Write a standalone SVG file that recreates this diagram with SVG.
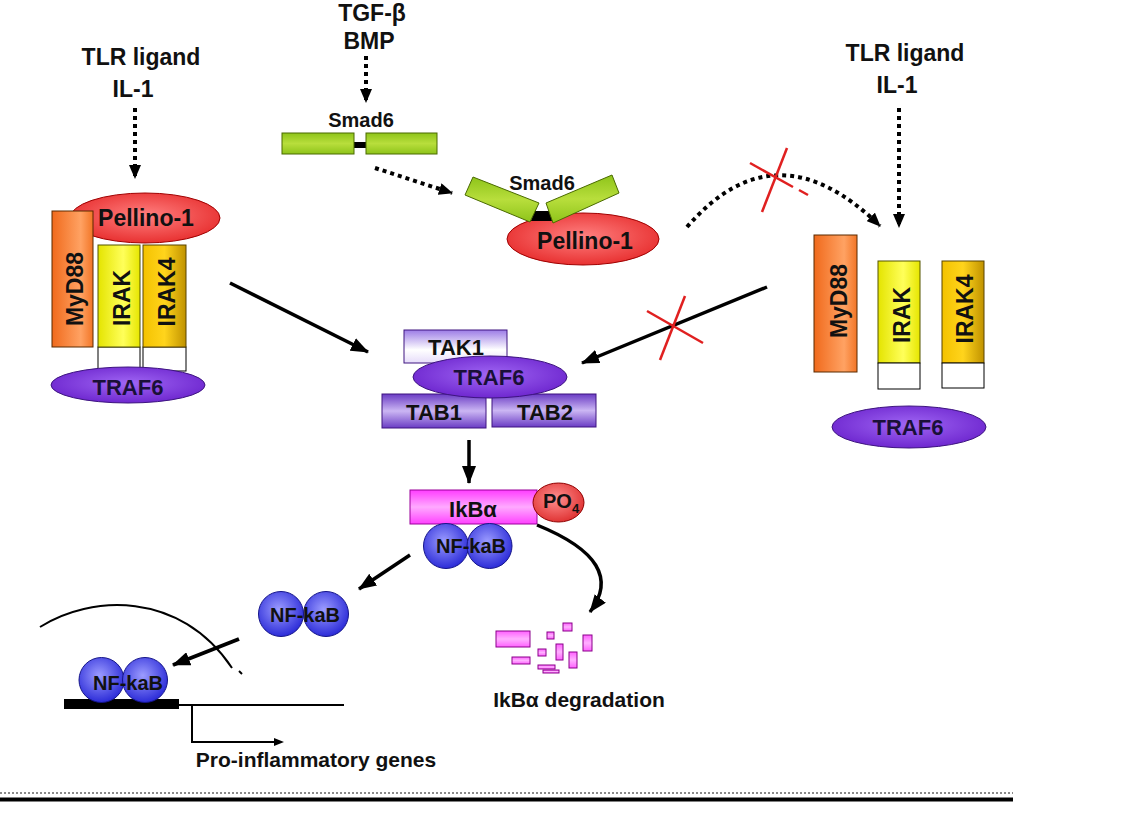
<svg xmlns="http://www.w3.org/2000/svg" width="1127" height="814" viewBox="0 0 1127 814">
<style>
text{font-family:"Liberation Sans",Arial,sans-serif;font-weight:bold;fill:#111;}
.big{font-size:23px;}
.lab{font-size:22px;}
.sm{font-size:20px;}
.cap{font-size:21px;}
.mid{text-anchor:middle;}
.dot{fill:none;stroke:#000;stroke-width:4;stroke-dasharray:4 4;}
.sol{fill:none;stroke:#000;stroke-width:3.5;}
.thin{fill:none;stroke:#000;stroke-width:2;}
.redx{stroke:#e02020;stroke-width:2.5;fill:none;}
.frag{fill:url(#gFrag);stroke:#8a008a;stroke-width:1;}
</style>
<defs>
<linearGradient id="gOrange" x1="0" y1="0" x2="1" y2="0"><stop offset="0" stop-color="#f06a1c"/><stop offset="0.7" stop-color="#ffa263"/><stop offset="1" stop-color="#f27526"/></linearGradient>
<linearGradient id="gYellow" x1="0" y1="0" x2="1" y2="0"><stop offset="0" stop-color="#e4e400"/><stop offset="0.6" stop-color="#ffff5a"/><stop offset="1" stop-color="#e6e600"/></linearGradient>
<linearGradient id="gGold" x1="0" y1="0" x2="1" y2="0"><stop offset="0" stop-color="#f4c200"/><stop offset="0.5" stop-color="#ffd41c"/><stop offset="1" stop-color="#c09200"/></linearGradient>
<radialGradient id="gRed" cx="0.5" cy="0.45" r="0.6"><stop offset="0" stop-color="#ff8080"/><stop offset="1" stop-color="#e62a2a"/></radialGradient>
<radialGradient id="gPurple" cx="0.5" cy="0.45" r="0.6"><stop offset="0" stop-color="#a066f4"/><stop offset="1" stop-color="#6a22cc"/></radialGradient>
<linearGradient id="gTak" x1="0" y1="0" x2="0" y2="1"><stop offset="0" stop-color="#9c7ce6"/><stop offset="0.6" stop-color="#ffffff"/><stop offset="1" stop-color="#e6dcfa"/></linearGradient>
<linearGradient id="gTab" x1="0" y1="0" x2="0" y2="1"><stop offset="0" stop-color="#6a3cc4"/><stop offset="0.5" stop-color="#cbb6f3"/><stop offset="1" stop-color="#6a3cc4"/></linearGradient>
<linearGradient id="gMag" x1="0" y1="0" x2="0" y2="1"><stop offset="0" stop-color="#ff3cff"/><stop offset="0.5" stop-color="#ffaaff"/><stop offset="1" stop-color="#ff40ff"/></linearGradient>
<linearGradient id="gFrag" x1="0" y1="0" x2="0" y2="1"><stop offset="0" stop-color="#ff60ff"/><stop offset="0.5" stop-color="#ffb0ff"/><stop offset="1" stop-color="#ff60ff"/></linearGradient>
<radialGradient id="gBlue" cx="0.45" cy="0.4" r="0.6"><stop offset="0" stop-color="#9c9cff"/><stop offset="1" stop-color="#2c2cd8"/></radialGradient>
<linearGradient id="gGreen" x1="0" y1="0" x2="0" y2="1"><stop offset="0" stop-color="#8ec41a"/><stop offset="0.5" stop-color="#b8de3c"/><stop offset="1" stop-color="#8ec41a"/></linearGradient>
<radialGradient id="gPO" cx="0.45" cy="0.4" r="0.6"><stop offset="0" stop-color="#ff9090"/><stop offset="1" stop-color="#e03434"/></radialGradient>
<marker id="hd" viewBox="0 0 14 12" refX="13" refY="6" markerWidth="14" markerHeight="12" markerUnits="userSpaceOnUse" orient="auto"><path d="M0,0 L14,6 L0,12 z" fill="#000"/></marker>
<marker id="hs" viewBox="0 0 18 14" refX="17" refY="7" markerWidth="18" markerHeight="14" markerUnits="userSpaceOnUse" orient="auto"><path d="M0,0 L18,7 L0,14 z" fill="#000"/></marker>
</defs>
<rect width="1127" height="814" fill="#fff"/>

<!-- free labels -->
<g id="lbl-left"><text class="big mid" x="141" y="65">TLR ligand</text><text class="big mid" x="133" y="97">IL-1</text></g>
<g id="lbl-tgf"><text class="big mid" x="372" y="21">TGF-β</text><text class="big mid" x="369" y="49">BMP</text></g>
<g id="lbl-right"><text class="big mid" x="905" y="61">TLR ligand</text><text class="big mid" x="897" y="93">IL-1</text></g>

<!-- left complex -->
<g id="left-complex">
<ellipse cx="145" cy="218" rx="75" ry="25" fill="url(#gRed)" stroke="#a00000" stroke-width="1"/>
<text class="big mid" x="146" y="226">Pellino-1</text>
<rect x="52" y="211" width="41" height="136" fill="url(#gOrange)" stroke="#5a2a00" stroke-width="1"/>
<text class="big mid" transform="translate(83,289) rotate(-90)">MyD88</text>
<rect x="98" y="347" width="42" height="24" fill="#fff" stroke="#000" stroke-width="1"/>
<rect x="143" y="347" width="43" height="24" fill="#fff" stroke="#000" stroke-width="1"/>
<rect x="98" y="245" width="42" height="102" fill="url(#gYellow)" stroke="#555500" stroke-width="1"/>
<text class="big mid" transform="translate(130,298) rotate(-90)">IRAK</text>
<rect x="143" y="245" width="43" height="102" fill="url(#gGold)" stroke="#5a4400" stroke-width="1"/>
<text class="big mid" transform="translate(175,292) rotate(-90)">IRAK4</text>
<ellipse cx="128" cy="385" rx="77" ry="18" fill="url(#gPurple)" stroke="#3e1580" stroke-width="1"/>
<text class="lab mid" x="128" y="395" style="fill:#1a1038">TRAF6</text>
</g>

<!-- Smad6 free -->
<g id="smad6">
<text class="sm mid" x="361" y="127">Smad6</text>
<rect x="354" y="142" width="12" height="6" fill="#000"/>
<rect x="282" y="133" width="72" height="21" fill="url(#gGreen)" stroke="#4a6a00" stroke-width="1"/>
<rect x="366" y="133" width="71" height="21" fill="url(#gGreen)" stroke="#4a6a00" stroke-width="1"/>
</g>

<!-- Smad6 / Pellino complex -->
<g id="smad6-pellino">
<ellipse cx="583" cy="239" rx="76" ry="26" fill="url(#gRed)" stroke="#a00000" stroke-width="1"/>
<text class="big mid" x="585" y="249">Pellino-1</text>
<polygon points="534,211 551,211 553,221 531,221" fill="#000"/>
<polygon points="473,177 539,203 530,222 465,195" fill="url(#gGreen)" stroke="#4a6a00" stroke-width="1"/>
<polygon points="612,175 619,193 553,223 546,203" fill="url(#gGreen)" stroke="#4a6a00" stroke-width="1"/>
<text class="sm mid" x="542" y="190">Smad6</text>
</g>

<!-- right complex -->
<g id="right-complex">
<rect x="814" y="235" width="43" height="137" fill="url(#gOrange)" stroke="#5a2a00" stroke-width="1"/>
<text class="big mid" transform="translate(847,301) rotate(-90)">MyD88</text>
<rect x="878" y="261" width="42" height="102" fill="url(#gYellow)" stroke="#555500" stroke-width="1"/>
<rect x="878" y="363" width="42" height="26" fill="#fff" stroke="#000" stroke-width="1"/>
<text class="big mid" transform="translate(910,315) rotate(-90)">IRAK</text>
<rect x="942" y="261" width="42" height="102" fill="url(#gGold)" stroke="#5a4400" stroke-width="1"/>
<rect x="942" y="363" width="42" height="25" fill="#fff" stroke="#000" stroke-width="1"/>
<text class="big mid" transform="translate(973,309) rotate(-90)">IRAK4</text>
<ellipse cx="909" cy="427" rx="77" ry="21" fill="url(#gPurple)" stroke="#3e1580" stroke-width="1"/>
<text class="lab mid" x="908" y="435" style="fill:#1a1038">TRAF6</text>
</g>

<!-- central complex -->
<g id="tak-complex">
<rect x="404" y="330" width="103" height="33" fill="url(#gTak)" stroke="#3e1580" stroke-width="1"/>
<text class="lab mid" x="456" y="355">TAK1</text>
<rect x="382" y="394" width="104" height="34" fill="url(#gTab)" stroke="#3e1580" stroke-width="1"/>
<text class="lab mid" x="434" y="420">TAB1</text>
<rect x="492" y="394" width="104" height="33" fill="url(#gTab)" stroke="#3e1580" stroke-width="1"/>
<text class="lab mid" x="545" y="420">TAB2</text>
<ellipse cx="490" cy="377" rx="77" ry="21" fill="url(#gPurple)" stroke="#3e1580" stroke-width="1"/>
<text class="lab mid" x="489" y="385" style="fill:#1a1038">TRAF6</text>
</g>

<!-- IkBa complex -->
<g id="ikba-complex">
<rect x="410" y="490" width="127" height="34" fill="url(#gMag)" stroke="#9a009a" stroke-width="1"/>
<text class="lab mid" x="473" y="517">IkBα</text>
<ellipse cx="558.5" cy="502.5" rx="25.5" ry="19.5" fill="url(#gPO)" stroke="#900000" stroke-width="1"/>
<text class="sm" x="543" y="508">PO<tspan font-size="13" dy="5">4</tspan></text>
<circle cx="446" cy="546" r="22.5" fill="url(#gBlue)" stroke="#15158a" stroke-width="1"/>
<circle cx="489.5" cy="546" r="22.5" fill="url(#gBlue)" stroke="#15158a" stroke-width="1"/>
<text class="sm mid" x="471" y="553">NF-kaB</text>
</g>

<!-- free NF-kaB -->
<g id="nfkb-free">
<circle cx="281" cy="614" r="22.5" fill="url(#gBlue)" stroke="#15158a" stroke-width="1"/>
<circle cx="326" cy="614" r="22.5" fill="url(#gBlue)" stroke="#15158a" stroke-width="1"/>
<text class="sm mid" x="305" y="622">NF-kaB</text>
</g>

<!-- DNA-bound NF-kaB -->
<g id="nfkb-dna">
<line x1="179" y1="705" x2="344" y2="705" stroke="#000" stroke-width="2"/>
<rect x="64" y="699" width="115" height="10" fill="#000"/>
<circle cx="101.5" cy="680" r="22.5" fill="url(#gBlue)" stroke="#15158a" stroke-width="1"/>
<circle cx="145" cy="680" r="22.5" fill="url(#gBlue)" stroke="#15158a" stroke-width="1"/>
<text class="sm mid" x="128" y="690">NF-kaB</text>
<text class="cap mid" x="316" y="767">Pro-inflammatory genes</text>
</g>

<!-- degradation -->
<g id="degradation">
<rect class="frag" x="496" y="631" width="34" height="16"/>
<rect class="frag" x="512" y="657" width="18" height="7"/>
<rect class="frag" x="547" y="632" width="7" height="7"/>
<rect class="frag" x="563" y="623" width="9" height="8"/>
<rect class="frag" x="583" y="635" width="9" height="16"/>
<rect class="frag" x="538" y="649" width="8" height="7"/>
<rect class="frag" x="556" y="644" width="7" height="16"/>
<rect class="frag" x="569" y="652" width="8" height="16"/>
<rect class="frag" x="538" y="665" width="17" height="4"/>
<rect class="frag" x="543" y="670" width="16" height="3"/>
<text class="cap mid" x="579" y="707">IkBα degradation</text>
</g>

<!-- connectors -->
<g id="connectors">
<line class="dot" x1="135" y1="108" x2="135" y2="178" marker-end="url(#hd)"/>
<line class="dot" x1="366" y1="56" x2="366" y2="102" marker-end="url(#hd)"/>
<line class="dot" x1="375" y1="168" x2="452" y2="193" marker-end="url(#hd)"/>
<line class="dot" x1="899" y1="108" x2="899" y2="227" marker-end="url(#hd)"/>
<path class="dot" d="M687,227 Q776,124 880,226" marker-end="url(#hd)"/>
<line class="sol" x1="230" y1="283" x2="368" y2="352" marker-end="url(#hs)"/>
<line class="sol" x1="767" y1="287" x2="582" y2="363" marker-end="url(#hs)"/>
<line class="sol" x1="469" y1="440" x2="469" y2="483" marker-end="url(#hs)"/>
<line class="sol" x1="410" y1="555" x2="359" y2="589" marker-end="url(#hs)"/>
<path class="sol" d="M537,525 Q628,562 590,612" marker-end="url(#hs)"/>
<line class="sol" style="stroke-width:4" x1="239" y1="639" x2="173" y2="665" marker-end="url(#hs)"/>
<path class="thin" d="M40,627 C90,595 180,590 232,668"/>
<line class="thin" x1="239" y1="671" x2="242" y2="674"/>
<polyline class="thin" points="192,706 192,742 276,742"/>
<path d="M274,738 L284,742 L274,746 z" fill="#000"/>
<line class="redx" x1="787" y1="148" x2="762" y2="212"/>
<line class="redx" x1="750" y1="163" x2="793" y2="187"/>
<line class="redx" x1="799" y1="190" x2="808" y2="195"/>
<line class="redx" x1="685" y1="296" x2="660" y2="360"/>
<line class="redx" x1="647" y1="311" x2="703" y2="343"/>
</g>

<!-- bottom rule -->
<g id="rule">
<line x1="0" y1="793" x2="1013" y2="793" stroke="#666" stroke-width="1.5" stroke-dasharray="2 2"/>
<line x1="0" y1="799.5" x2="1013" y2="799.5" stroke="#000" stroke-width="4"/>
</g>
</svg>
